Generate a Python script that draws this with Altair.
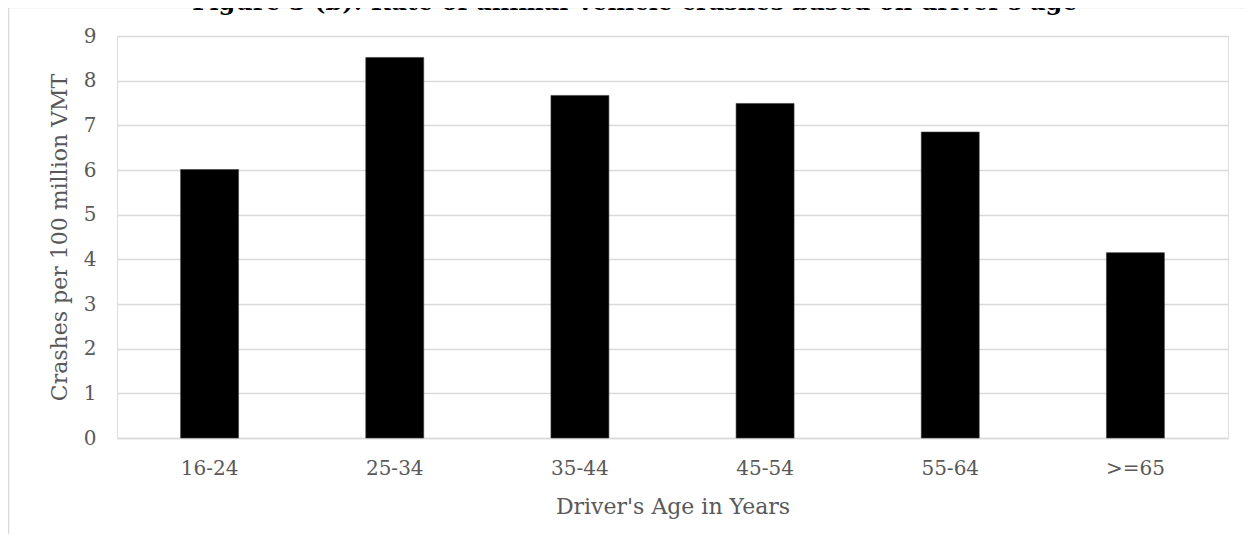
import altair as alt
import pandas as pd

ages = ["16-24", "25-34", "35-44", "45-54", "55-64", ">=65"]
rates = [6.01, 8.52, 7.67, 7.49, 6.85, 4.15]
y_ticks = [0, 1, 2, 3, 4, 5, 6, 7, 8, 9]
title_text = "Figure 3 (b): Rate of animal-vehicle crashes based on driver's age"
y_title = "Crashes per 100 million VMT"
x_title = "Driver's Age in Years"

df = pd.DataFrame({"age": ages, "rate": rates})

FONT = "DejaVu Serif"
TXT = "#595959"
GRID = "#D9D9D9"

bars = alt.Chart(df).mark_bar(color="black", stroke="#3a3a3a", strokeWidth=0.6).encode(
    x=alt.X(
        "age:N",
        sort=ages,
        scale=alt.Scale(paddingInner=0.687, paddingOuter=0.3435),
        axis=alt.Axis(
            title=x_title,
            labelAngle=0,
            ticks=False,
            domain=True,
            domainColor=GRID,
            domainWidth=1.5,
            labelPadding=20,
            titlePadding=18,
            labelFont=FONT,
            labelFontSize=20,
            labelColor=TXT,
            titleFont=FONT,
            titleFontSize=22,
            titleFontWeight="normal",
            titleColor=TXT,
        ),
    ),
    y=alt.Y(
        "rate:Q",
        scale=alt.Scale(domain=[0, 9], nice=False),
        axis=alt.Axis(
            title=y_title,
            values=y_ticks,
            ticks=False,
            domain=False,
            grid=True,
            gridColor=GRID,
            gridWidth=1.5,
            labelPadding=21,
            titlePadding=12,
            labelFont=FONT,
            labelFontSize=20,
            labelColor=TXT,
            titleFont=FONT,
            titleFontSize=22,
            titleFontWeight="normal",
            titleColor=TXT,
        ),
    ),
)

one = pd.DataFrame({"t": [title_text]})

title = alt.Chart(one).mark_text(
    font=FONT, fontSize=24, fontWeight="bold", color="black",
    align="center", baseline="alphabetic",
).encode(text="t:N", x=alt.value(518), y=alt.value(-26))

border_top = alt.Chart(one).mark_rule(color=GRID, strokeWidth=1.5).encode(
    x=alt.value(-108.5), x2=alt.value(1300), y=alt.value(-28.5)
)
border_left = alt.Chart(one).mark_rule(color=GRID, strokeWidth=1.5).encode(
    x=alt.value(-108.5), y=alt.value(-28.5), y2=alt.value(700)
)

chart = alt.layer(border_top, border_left, bars, title).properties(
    width=1111,
    height=402,
    padding={"left": 109, "top": 28, "right": 18, "bottom": 96},
    autosize=alt.AutoSizeParams(type="none"),
).configure_view(stroke=None).configure(background="white")

chart.save("out.html", embed_options={"renderer": "svg", "actions": False})
